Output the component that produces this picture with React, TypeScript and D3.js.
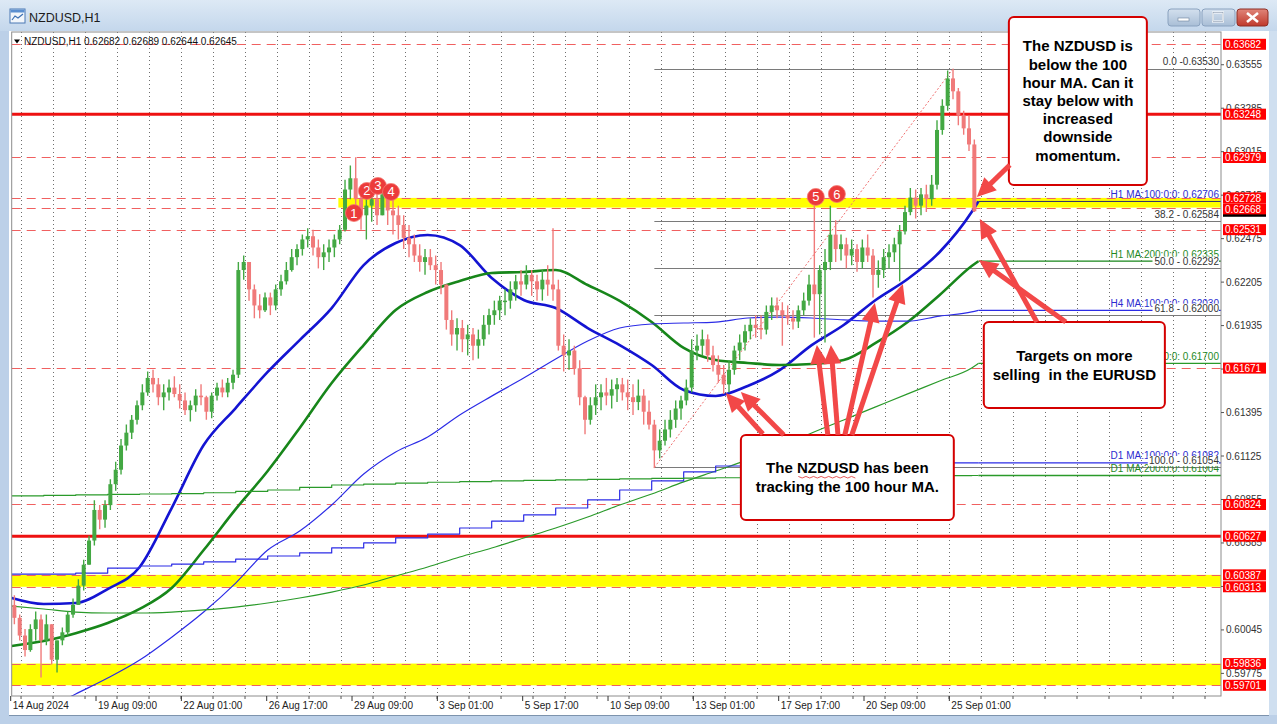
import React from "react";
import * as d3 from "d3";

// ---------------- DATA ----------------
const chartTitle = "NZDUSD,H1";
const headerQuote = "NZDUSD,H1  0.62682 0.62689 0.62644 0.62645";

// price path: candles of 4 hourly bars each (bar index = hours of trading from the left edge)
const barsPerCandle = 4;
const firstOpen = 0.602;
const highs = [
  0.6026, 0.6014, 0.6005, 0.6008, 0.6016, 0.6014, 0.6014, 0.6005, 0.5992, 0.6006,
  0.6016, 0.6024, 0.6036, 0.6048, 0.6063, 0.6085, 0.6082, 0.6085, 0.6098, 0.6109,
  0.6123, 0.6132, 0.6138, 0.6147, 0.6157, 0.6165, 0.6166, 0.6161, 0.6157, 0.616,
  0.6162, 0.6157, 0.6152, 0.6147, 0.6154, 0.6157, 0.615, 0.6152, 0.6158, 0.616,
  0.6161, 0.6166, 0.6233, 0.6237, 0.6233, 0.6219, 0.6213, 0.6214, 0.6214, 0.6219,
  0.6225, 0.6233, 0.6241, 0.6244, 0.625, 0.6254, 0.6253, 0.6247, 0.6244, 0.6247,
  0.625, 0.6256, 0.6284, 0.6293, 0.6298, 0.6281, 0.6278, 0.6281, 0.6284, 0.6282,
  0.6279, 0.6275, 0.6268, 0.6262, 0.6256, 0.625, 0.6244, 0.6241, 0.6241, 0.6237,
  0.6233, 0.6219, 0.6203, 0.6198, 0.6197, 0.6194, 0.6192, 0.6191, 0.62, 0.6204,
  0.6209, 0.6212, 0.6216, 0.6221, 0.6225, 0.6228, 0.6231, 0.6228, 0.6225, 0.6228,
  0.6231, 0.6254, 0.6222, 0.6188, 0.6185, 0.6181, 0.6172, 0.615, 0.6149, 0.6157,
  0.6157, 0.6161, 0.616, 0.6161, 0.6161, 0.616, 0.6157, 0.616, 0.6154, 0.6147,
  0.6135, 0.6129, 0.6135, 0.6141, 0.6147, 0.615, 0.616, 0.6185, 0.6188, 0.6191,
  0.6188, 0.6181, 0.6175, 0.6169, 0.6172, 0.6181, 0.6188, 0.6194, 0.6198, 0.62,
  0.62, 0.6206, 0.6211, 0.6211, 0.6208, 0.6206, 0.6203, 0.6206, 0.6214,
  0.6225, 0.6268, 0.6231, 0.6241, 0.6268, 0.6259, 0.625, 0.6248, 0.6247, 0.6244,
  0.6247, 0.625, 0.6241, 0.6234, 0.6241, 0.6244, 0.6248, 0.6256, 0.6268, 0.6279,
  0.6278, 0.6279, 0.6281, 0.6287, 0.6321, 0.6334, 0.6352, 0.6353, 0.6341, 0.6327,
  0.6324, 0.6309,
];
const lows = [
  0.6008, 0.5998, 0.5988, 0.5991, 0.5998, 0.5975, 0.5995, 0.5983, 0.5978, 0.5995,
  0.6001, 0.6012, 0.602, 0.6029, 0.6045, 0.6057, 0.6067, 0.6068, 0.6079, 0.6091,
  0.6101, 0.6116, 0.6123, 0.6132, 0.6141, 0.615, 0.6152, 0.6144, 0.6141, 0.6147,
  0.6149, 0.6142, 0.6138, 0.6134, 0.614, 0.6144, 0.6135, 0.6136, 0.6147, 0.6149,
  0.6149, 0.6154, 0.6161, 0.6222, 0.6209, 0.6198, 0.6198, 0.6202, 0.62, 0.6203,
  0.6212, 0.6219, 0.6227, 0.6231, 0.6237, 0.6242, 0.6237, 0.6229, 0.6228, 0.6233,
  0.6236, 0.6244, 0.6252, 0.6272, 0.6265, 0.6253, 0.6247, 0.6258, 0.6256, 0.6264,
  0.6256, 0.625, 0.6247, 0.6241, 0.6236, 0.6233, 0.6227, 0.6225, 0.6228, 0.6219,
  0.6213, 0.6191, 0.6181, 0.6178, 0.6177, 0.6175, 0.6172, 0.6173, 0.6181, 0.6188,
  0.6194, 0.6197, 0.62, 0.6204, 0.6209, 0.6212, 0.6216, 0.6212, 0.6209, 0.6209,
  0.6212, 0.6209, 0.6178, 0.6165, 0.6166, 0.6163, 0.6144, 0.6126, 0.6132, 0.6138,
  0.6141, 0.6144, 0.6142, 0.6146, 0.6147, 0.6141, 0.6138, 0.6141, 0.6132, 0.6129,
  0.6105, 0.6111, 0.6119, 0.6124, 0.613, 0.6135, 0.6144, 0.6152, 0.6172, 0.6175,
  0.6171, 0.6165, 0.6158, 0.6151, 0.6152, 0.6163, 0.6172, 0.6178, 0.6185, 0.6186,
  0.6185, 0.6188, 0.6197, 0.6198, 0.6181, 0.6194, 0.6191, 0.6192, 0.62,
  0.6206, 0.6186, 0.6188, 0.6183, 0.6228, 0.6233, 0.6234, 0.6229, 0.6231, 0.6227,
  0.6229, 0.6233, 0.6211, 0.6217, 0.6223, 0.6229, 0.6233, 0.6221, 0.625, 0.6262,
  0.626, 0.6262, 0.6264, 0.6268, 0.6278, 0.6312, 0.6327, 0.6334, 0.6318, 0.6312,
  0.6302, 0.6264,
];
const closes = [
  0.6012, 0.6001, 0.5992, 0.6005, 0.6011, 0.5998, 0.6008, 0.5986, 0.5998, 0.6003,
  0.6014, 0.602, 0.6032, 0.6045, 0.606, 0.6079, 0.6073, 0.6082, 0.6095, 0.6104,
  0.6119, 0.6127, 0.6135, 0.6144, 0.6152, 0.6161, 0.6157, 0.6149, 0.6152, 0.6155,
  0.6151, 0.6147, 0.6141, 0.6144, 0.615, 0.6149, 0.614, 0.615, 0.6155, 0.6152,
  0.6158, 0.6163, 0.6228, 0.6233, 0.6216, 0.6206, 0.6203, 0.6211, 0.6206, 0.6216,
  0.6221, 0.6228, 0.6236, 0.6241, 0.6247, 0.6249, 0.6242, 0.6236, 0.6239, 0.6242,
  0.6247, 0.6253, 0.6278, 0.6285, 0.6272, 0.6262, 0.6268, 0.6272, 0.6262, 0.6275,
  0.6265, 0.6262, 0.6256, 0.6248, 0.6244, 0.6237, 0.6233, 0.6236, 0.6231, 0.6228,
  0.6219, 0.6197, 0.6188, 0.6192, 0.6185, 0.6188, 0.6181, 0.6185, 0.6194, 0.62,
  0.6203, 0.6209, 0.6209, 0.6216, 0.6221, 0.6219, 0.6225, 0.6221, 0.6216, 0.6222,
  0.6219, 0.6216, 0.6181, 0.6175, 0.6178, 0.6167, 0.6149, 0.6135, 0.6144, 0.6149,
  0.6152, 0.615, 0.6154, 0.6157, 0.6152, 0.6149, 0.6146, 0.615, 0.614, 0.6132,
  0.6116, 0.6122, 0.6129, 0.6135, 0.6142, 0.6147, 0.6155, 0.6178, 0.6181, 0.6185,
  0.6175, 0.6169, 0.6163, 0.6157, 0.6166, 0.6178, 0.6183, 0.619, 0.6194, 0.6192,
  0.6191, 0.6202, 0.6206, 0.6203, 0.62, 0.6198, 0.6196, 0.6203, 0.6209,
  0.6219, 0.6213, 0.6228, 0.6233, 0.625, 0.6241, 0.6244, 0.6237, 0.6241, 0.6233,
  0.6242, 0.6237, 0.6225, 0.6228, 0.6236, 0.6239, 0.6244, 0.6252, 0.6264, 0.6273,
  0.6268, 0.6275, 0.6272, 0.6281, 0.6315, 0.633, 0.6347, 0.6339, 0.6324, 0.6316,
  0.6306, 0.62645,
];

// moving averages sampled every 24 bars, plus the last bar
const maBars = [
  0, 24, 48, 72, 96, 120, 144, 168, 192, 216, 240, 264, 288, 312, 336, 360,
  384, 408, 432, 456, 480, 504, 528, 552, 576, 600, 624, 648, 672, 696, 720, 725,
];
const h1Ma100 = [
  0.60243, 0.60206, 0.60212, 0.60299, 0.60436, 0.60802, 0.61193, 0.61423, 0.61647, 0.61845,
  0.62044, 0.62311, 0.62448, 0.62498, 0.62435, 0.62231, 0.62094, 0.62044, 0.6192, 0.61814,
  0.6169, 0.61535, 0.61498, 0.6156, 0.61659, 0.61814, 0.61939, 0.62094, 0.62224, 0.62392,
  0.6264, 0.62706,
];
const h1Ma200 = [
  0.59945, 0.59976, 0.60025, 0.60088, 0.60175, 0.60305, 0.60541, 0.60795, 0.61032, 0.61299,
  0.61578, 0.61814, 0.62032, 0.62144, 0.62212, 0.62262, 0.62268, 0.6228, 0.62187, 0.62088,
  0.61957, 0.61796, 0.61721, 0.61703, 0.6169, 0.61696, 0.61721, 0.61827, 0.61957, 0.62125,
  0.62305, 0.62335,
];
const h4Ma100 = [
  0.59454, 0.59547, 0.59647, 0.59746, 0.59858, 0.6, 0.60156, 0.60336, 0.60541, 0.60659,
  0.60821, 0.61013, 0.6115, 0.61243, 0.6138, 0.61497, 0.61609, 0.61727, 0.61839, 0.6192,
  0.61945, 0.61951, 0.61957, 0.61982, 0.61988, 0.61982, 0.6197, 0.61963, 0.61963, 0.61994,
  0.6202, 0.6203,
];
const h4Ma200 = [
  0.60193, 0.60175, 0.60156, 0.6015, 0.6015, 0.60156, 0.60169, 0.60187, 0.60212, 0.60243,
  0.6028, 0.60324, 0.6038, 0.60436, 0.60498, 0.60554, 0.60616, 0.60678, 0.60746, 0.60821,
  0.60889, 0.60964, 0.61032, 0.61101, 0.61181, 0.61268, 0.61349, 0.6143, 0.61511, 0.61591,
  0.61672, 0.617,
];
const d1Ma100 = [
  0.60392, 0.60392, 0.60398, 0.60429, 0.60442, 0.60454, 0.60467, 0.60485, 0.60504, 0.60523,
  0.60554, 0.60585, 0.60616, 0.6064, 0.60678, 0.60721, 0.60759, 0.60802, 0.60852, 0.60914,
  0.6097, 0.61026, 0.61063, 0.61076, 0.61082, 0.61082, 0.61082, 0.61082, 0.61082, 0.61082,
  0.61082, 0.61082,
];
const d1Ma200 = [
  0.60877, 0.6088, 0.60884, 0.60887, 0.60889, 0.60892, 0.60897, 0.60905, 0.60914, 0.6093,
  0.60945, 0.60951, 0.60957, 0.60962, 0.60966, 0.6097, 0.60974, 0.60977, 0.6098, 0.60983,
  0.60986, 0.60988, 0.6099, 0.60992, 0.60994, 0.60996, 0.60998, 0.61, 0.61001, 0.61003,
  0.61004, 0.61004,
];
const maNames = ["H1 MA:100:0:0:", "H1 MA:200:0:0:", "H4 MA:100:0:0:", "H4 MA:200:0:0:", "D1 MA:100:0:0:", "D1 MA:200:0:0:"];

// time axis
const xTickBars = [0, 64, 128, 192, 256, 320, 384, 448, 512, 576, 640, 704];
const xTickLabels = [
  "14 Aug 2024", "19 Aug 09:00", "22 Aug 01:00", "26 Aug 17:00", "29 Aug 09:00", "3 Sep 01:00",
  "5 Sep 17:00", "10 Sep 09:00", "13 Sep 01:00", "17 Sep 17:00", "20 Sep 09:00", "25 Sep 01:00",
];
const dayGridFirstBar = 7;
const barsPerDay = 24;

// price axis
const priceTicks = [
  0.63555, 0.63285, 0.63015, 0.62745, 0.62475, 0.62205, 0.61935, 0.61665, 0.61395, 0.61125,
  0.60855, 0.60585, 0.60315, 0.60045, 0.59775,
];
const keyLevels = [
  0.63682, 0.63248, 0.62979, 0.62728, 0.62668, 0.62531, 0.61671, 0.60824, 0.60627, 0.60387,
  0.60313, 0.59836, 0.59701,
];
const solidLevels = [0.63248, 0.60627];
const bandHighs = [0.62728, 0.60387, 0.59836];
const bandLows = [0.62668, 0.60313, 0.59701];
const bandStartBars = [245, 0, 0];
const lastPrice = 0.62645;

// fibonacci retracement from the 10 Sep low to the 24 Sep high
const fibRatios = ["0.0", "38.2", "50.0", "61.8", "100.0"];
const fibPrices = [0.6353, 0.62584, 0.62292, 0.62, 0.61054];
const fibLowBar = 482;
const fibHighBar = 706;

// numbered touches
const touchLabels = ["1", "2", "3", "4", "5", "6"];
const touchBars = [256.7, 266.4, 274.7, 284.5, 603.1, 618.9];
const touchPrices = [0.62634, 0.62771, 0.62802, 0.62765, 0.62734, 0.62752];

// callouts (bar / price extents)
const calloutTexts = [
  ["The NZDUSD is", "below the 100", "hour MA. Can it", "stay below with", "increased", "downside", "momentum."],
  ["Targets on more", "selling  in the EURUSD"],
  ["The NZDUSD has been", "tracking the 100 hour MA."],
];
const calloutBar0 = [747.9, 729.1, 546.9];
const calloutBar1 = [851.4, 864.9, 706.6];
const calloutTop = [0.63851, 0.61957, 0.61256];
const calloutBottom = [0.62808, 0.61423, 0.60728];

// arrows: tail -> head (bar, price)
const arrowTailBars = [748.6, 768.9, 790.6, 563.4, 579.1, 612.1, 619.7, 624.9, 630.1];
const arrowTailPrices = [0.62932, 0.61957, 0.61957, 0.61262, 0.61256, 0.61256, 0.61256, 0.61256, 0.61256];
const arrowHeadBars = [723.9, 726.1, 725.4, 535.6, 546.9, 603.9, 614.4, 647.4, 668.4];
const arrowHeadPrices = [0.62734, 0.62597, 0.62343, 0.61517, 0.61523, 0.61815, 0.61815, 0.62075, 0.62193];

// ---------------- CHART ----------------
const FONT = "'Liberation Sans', Arial, sans-serif";
const W = 1277;
const H = 724;
const L = 11.7;
const R = 1221;
const T = 32;
const B = 696;

function arrowShape(tx: number, ty: number, hx: number, hy: number) {
  const dx = hx - tx;
  const dy = hy - ty;
  const len = Math.hypot(dx, dy);
  const ux = dx / len;
  const uy = dy / len;
  const hl = 19;
  const hw = 9;
  const bx = hx - ux * hl;
  const by = hy - uy * hl;
  const px = -uy;
  const py = ux;
  return {
    shaft: [tx, ty, bx + ux * 2, by + uy * 2],
    head: `M${hx},${hy}L${bx + px * hw},${by + py * hw}L${bx - px * hw},${by - py * hw}Z`,
  };
}

export default function App() {
  const x = d3.scaleLinear().domain([0, 907]).range([L, R]);
  const y = d3.scaleLinear().domain([0.63682, 0.59701]).range([44.3, 685.3]);

  const candles = closes.map((c, i) => {
    const o = i === 0 ? firstOpen : closes[i - 1];
    return {
      bar: i * barsPerCandle + barsPerCandle / 2,
      o,
      c,
      h: Math.max(highs[i], o, c),
      l: Math.min(lows[i], o, c),
    };
  });

  const maStyles = [
    { values: h1Ma100, color: "#1414d2", width: 2.6, step: false, ext: "#2a2a70", label: "#2b2bd0" },
    { values: h1Ma200, color: "#17861a", width: 2.6, step: false, ext: "#17861a", label: "#1f8a1f" },
    { values: h4Ma100, color: "#2c2ce6", width: 1.2, step: false, ext: "#2c2ce6", label: "#2b2bd0" },
    { values: h4Ma200, color: "#2a9a2a", width: 1.2, step: false, ext: "#2a9a2a", label: "#1f8a1f" },
    { values: d1Ma100, color: "#2c2ce6", width: 1.2, step: true, ext: "#2c2ce6", label: "#2b2bd0" },
    { values: d1Ma200, color: "#2a9a2a", width: 1.2, step: true, ext: "#2a9a2a", label: "#1f8a1f" },
  ];
  const lastMaBar = maBars[maBars.length - 1];

  const lineSmooth = d3
    .line<[number, number]>()
    .x((d) => x(d[0]))
    .y((d) => y(d[1]))
    .curve(d3.curveMonotoneX);
  const lineStep = d3
    .line<[number, number]>()
    .x((d) => x(d[0]))
    .y((d) => y(d[1]))
    .curve(d3.curveStepAfter);

  const gridBars = d3.range(dayGridFirstBar, 907, barsPerDay);

  // right axis labels with overlap avoidance (like the platform does)
  const keyLabels = keyLevels
    .map((v) => ({ v, yy: y(v) }))
    .sort((a, b) => a.yy - b.yy);
  for (let i = 1; i < keyLabels.length; i++) {
    if (keyLabels[i].yy < keyLabels[i - 1].yy + 11) keyLabels[i].yy = keyLabels[i - 1].yy + 11;
  }

  const dashColor = "#f06060";

  return (
    <svg
      width={W}
      height={H}
      viewBox={`0 0 ${W} ${H}`}
      style={{ position: "absolute", left: 0, top: 0, display: "block" }}
      fontFamily={FONT}
    >
      <defs>
        <linearGradient id="titleGrad" x1="0" y1="0" x2="0" y2="1">
          <stop offset="0" stopColor="#dde9f5" />
          <stop offset="1" stopColor="#c4d7ec" />
        </linearGradient>
        <linearGradient id="btnGrad" x1="0" y1="0" x2="0" y2="1">
          <stop offset="0" stopColor="#d3e0ee" />
          <stop offset="1" stopColor="#a9bed6" />
        </linearGradient>
        <linearGradient id="closeGrad" x1="0" y1="0" x2="0" y2="1">
          <stop offset="0" stopColor="#e0857a" />
          <stop offset="1" stopColor="#c0392b" />
        </linearGradient>
        <clipPath id="plotClip">
          <rect x={L} y={T} width={R - L} height={B - T} />
        </clipPath>
      </defs>

      {/* window frame */}
      <rect x={0} y={0} width={W} height={H} fill="#bcd0e8" />
      <rect x={0} y={0} width={W} height={31} fill="url(#titleGrad)" />
      <rect x={10} y={9} width={15} height={14} fill="#f2f6fb" stroke="#4b79b4" strokeWidth={1} />
      <rect x={10.5} y={9.5} width={14} height={3} fill="#5b8fd0" />
      <path d="M12,20 L15,16 L18,18 L23,14" fill="none" stroke="#3a6fb3" strokeWidth={1.2} />
      <text x={29} y={22} fontSize={12.5} fill="#1b1b1b">
        {chartTitle}
      </text>
      <rect x={1168} y={9} width={32} height={17} rx={3} fill="url(#btnGrad)" stroke="#8aa2bf" />
      <rect x={1178} y={18} width={11} height={3} fill="#ffffff" stroke="#6a7f99" strokeWidth={0.6} />
      <rect x={1202} y={9} width={33} height={17} rx={3} fill="url(#btnGrad)" stroke="#8aa2bf" />
      <rect x={1213} y={12.5} width={10} height={9} fill="none" stroke="#ffffff" strokeWidth={2} />
      <rect x={1213} y={12.5} width={10} height={9} fill="none" stroke="#6a7f99" strokeWidth={0.5} />
      <rect x={1237} y={9} width={31} height={17} rx={3} fill="url(#closeGrad)" stroke="#8f2f25" />
      <path d="M1247,13 L1258,22 M1258,13 L1247,22" stroke="#ffffff" strokeWidth={2.6} />

      {/* chart window */}
      <rect x={9} y={31} width={1260} height={684} fill="#ffffff" />
      <line x1={9} y1={715.5} x2={1269} y2={715.5} stroke="#7d93ad" />
      <rect x={1269} y={31} width={8} height={684} fill="#cfdff0" />

      {/* vertical dotted grid */}
      {gridBars.map((b) => (
        <line
          key={"g" + b}
          x1={Math.round(x(b)) + 0.5}
          x2={Math.round(x(b)) + 0.5}
          y1={T}
          y2={B}
          stroke="#6e6e6e"
          strokeWidth={1}
          strokeDasharray="1,3"
        />
      ))}

      <g clipPath="url(#plotClip)">
        {/* yellow zones */}
        {bandHighs.map((hv, i) => (
          <rect
            key={"band" + i}
            x={x(bandStartBars[i])}
            y={y(hv)}
            width={R - x(bandStartBars[i])}
            height={y(bandLows[i]) - y(hv)}
            fill="#ffff00"
          />
        ))}

        {/* key levels */}
        {keyLevels
          .filter((v) => solidLevels.indexOf(v) < 0)
          .map((v) => (
            <line
              key={"d" + v}
              x1={L}
              x2={R}
              y1={Math.round(y(v)) + 0.5}
              y2={Math.round(y(v)) + 0.5}
              stroke={dashColor}
              strokeWidth={1}
              strokeDasharray="9,6"
            />
          ))}
        {solidLevels.map((v) => (
          <line key={"s" + v} x1={L} x2={R} y1={y(v)} y2={y(v)} stroke="#ee1111" strokeWidth={3} />
        ))}

        {/* fibonacci */}
        <line
          x1={x(fibLowBar)}
          y1={y(fibPrices[4])}
          x2={x(fibHighBar)}
          y2={y(fibPrices[0])}
          stroke="#f07070"
          strokeWidth={1}
          strokeDasharray="2,2"
        />
        {fibPrices.map((p) => (
          <line
            key={"f" + p}
            x1={x(fibLowBar)}
            x2={R}
            y1={Math.round(y(p)) + 0.5}
            y2={Math.round(y(p)) + 0.5}
            stroke="#7a7a7a"
            strokeWidth={1}
          />
        ))}

        {/* moving averages */}
        {maStyles.map((m, i) => {
          const pts = maBars.map((b, j) => [b, m.values[j]] as [number, number]);
          return (
            <path
              key={"ma" + i}
              d={(m.step ? lineStep : lineSmooth)(pts) || ""}
              fill="none"
              stroke={m.color}
              strokeWidth={m.width}
              strokeLinejoin="round"
            />
          );
        })}
        {maStyles.map((m, i) => {
          const v = m.values[m.values.length - 1];
          return (
            <line
              key={"mx" + i}
              x1={x(lastMaBar)}
              x2={R}
              y1={y(v)}
              y2={y(v)}
              stroke={m.ext}
              strokeWidth={i === 0 ? 1 : 1.3}
            />
          );
        })}

        {/* price candles */}
        {candles.map((d, i) => {
          const up = d.c >= d.o;
          const col = up ? "#43a843" : "#f07a7a";
          const cx = x(d.bar);
          const top = y(Math.max(d.o, d.c));
          const bot = y(Math.min(d.o, d.c));
          return (
            <g key={"c" + i}>
              <line x1={cx} x2={cx} y1={y(d.h)} y2={y(d.l)} stroke={col} strokeWidth={1.4} />
              <rect x={cx - 2} y={top} width={4} height={Math.max(1.5, bot - top)} fill={col} />
            </g>
          );
        })}
      </g>

      {/* MA value labels */}
      {maStyles.map((m, i) => {
        const v = m.values[m.values.length - 1];
        return (
          <text
            key={"ml" + i}
            x={R - 2}
            y={y(v) - 3.5}
            fontSize={10}
            textAnchor="end"
            fill={m.label}
          >
            {`${maNames[i]} ${v.toFixed(5)}`}
          </text>
        );
      })}

      {/* fib labels */}
      {fibPrices.map((p, i) => {
        const label = i === 0 ? `${fibRatios[i]} -${p.toFixed(5)}` : `${fibRatios[i]} - ${p.toFixed(5)}`;
        const wdt = label.length * 4.75;
        return (
          <g key={"fl" + i}>
            <rect x={R - 2 - wdt} y={y(p) - 11.5} width={wdt} height={10} fill="#ffffff" />
            <text x={R - 2} y={y(p) - 3.5} fontSize={10} textAnchor="end" fill="#333333">
              {label}
            </text>
          </g>
        );
      })}

      {/* header quote */}
      <path d="M14,39.5 L20,39.5 L17,43.5 Z" fill="#000000" />
      <text x={24} y={45} fontSize={10} fill="#111111">
        {headerQuote}
      </text>

      {/* plot frame */}
      <rect x={L} y={T} width={R - L} height={B - T} fill="none" stroke="#8c8c8c" strokeWidth={1} />

      {/* price axis */}
      {priceTicks.map((p) => (
        <g key={"pt" + p}>
          <line x1={R} x2={R + 3} y1={y(p)} y2={y(p)} stroke="#555" />
          <text x={R + 5} y={y(p) + 3.5} fontSize={10} fill="#333333">
            {p.toFixed(5)}
          </text>
        </g>
      ))}
      <rect x={R + 2} y={y(lastPrice) - 5.5} width={43} height={11} fill="#000000" />
      {keyLabels.map((k) => (
        <g key={"kl" + k.v}>
          <rect x={R + 2} y={k.yy - 5.5} width={43} height={11} fill="#ff0000" />
          <text x={R + 4} y={k.yy + 3.8} fontSize={10} fill="#ffffff">
            {k.v.toFixed(5)}
          </text>
        </g>
      ))}

      {/* time axis */}
      {gridBars.map((b) => (
        <line key={"mt" + b} x1={x(b)} x2={x(b)} y1={B} y2={B + 3} stroke="#555" />
      ))}
      {xTickBars.map((b, i) => (
        <g key={"xt" + b}>
          <line x1={x(b) - 1} x2={x(b) - 1} y1={B} y2={B + 5} stroke="#333" />
          <text x={x(b) + 1} y={709} fontSize={10} fill="#222222">
            {xTickLabels[i]}
          </text>
        </g>
      ))}

      {/* numbered touches */}
      {touchLabels.map((t, i) => (
        <g key={"t" + t}>
          <circle cx={x(touchBars[i])} cy={y(touchPrices[i])} r={8.5} fill="#ec3b3b" stroke="#f47a72" strokeWidth={0.8} />
          <text
            x={x(touchBars[i])}
            y={y(touchPrices[i]) + 4.5}
            fontSize={13}
            textAnchor="middle"
            fill="#ffffff"
          >
            {t}
          </text>
        </g>
      ))}

      {/* callout boxes */}
      {calloutTexts.map((lines, i) => {
        const bx0 = x(calloutBar0[i]);
        const bx1 = x(calloutBar1[i]);
        const by0 = y(calloutTop[i]);
        const by1 = y(calloutBottom[i]);
        const cx = (bx0 + bx1) / 2;
        const cy = (by0 + by1) / 2;
        const lh = i === 0 ? 18.2 : 19;
        return (
          <g key={"box" + i}>
            <rect
              x={bx0}
              y={by0}
              width={bx1 - bx0}
              height={by1 - by0}
              rx={5}
              fill="#ffffff"
              stroke="#d40000"
              strokeWidth={2}
            />
            {lines.map((ln, j) => (
              <text
                key={j}
                x={cx}
                y={cy + (j - (lines.length - 1) / 2) * lh + 5}
                fontSize={15}
                fontWeight="bold"
                textAnchor="middle"
                fill="#000000"
                style={{ whiteSpace: "pre" }}
              >
                {ln}
              </text>
            ))}
            {i === 2 && (
              <path
                d={d3.range(0, 16).map((k) => `${k === 0 ? "M" : "L"}${cx - 49 + k * 3.8},${cy - 9.5 + 5 + 3.5 + (k % 2 === 0 ? 0 : 1.6)}`).join("")}
                fill="none"
                stroke="#e03030"
                strokeWidth={0.8}
              />
            )}
          </g>
        );
      })}

      {/* arrows */}
      {arrowTailBars.map((tb, i) => {
        const a = arrowShape(x(tb), y(arrowTailPrices[i]), x(arrowHeadBars[i]), y(arrowHeadPrices[i]));
        return (
          <g key={"ar" + i}>
            <line
              x1={a.shaft[0]}
              y1={a.shaft[1]}
              x2={a.shaft[2]}
              y2={a.shaft[3]}
              stroke="#f24848"
              strokeWidth={5}
            />
            <path d={a.head} fill="#f24848" />
          </g>
        );
      })}
    </svg>
  );
}
